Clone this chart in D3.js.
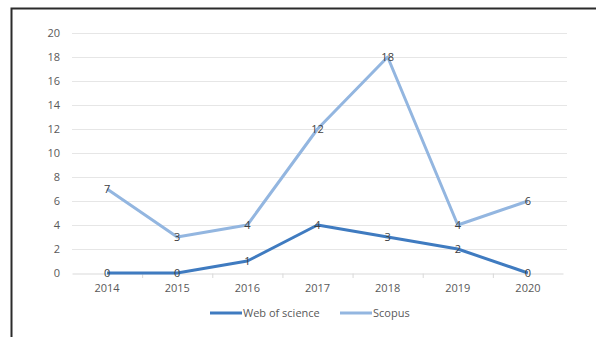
<!DOCTYPE html>
<html><head><meta charset="utf-8">
<script src="https://cdn.jsdelivr.net/npm/d3@7"></script>
<style>body{margin:0;background:#fff}svg{display:block}text{font-family:"Open Sans","Noto Sans",sans-serif}</style>
</head><body>
<script>
const years = ["2014","2015","2016","2017","2018","2019","2020"];
const webOfScience = [0,0,1,4,3,2,0];
const scopus = [7,3,4,12,18,4,6];
const yTicks = [0,2,4,6,8,10,12,14,16,18,20];
const seriesNames = ["Web of science","Scopus"];
const seriesColors = ["#3f7bc0","#93b6e0"];

const W=596,H=337;
const svg=d3.select("body").append("svg").attr("width",W).attr("height",H);
// frame
svg.append("path").attr("d",`M11.5,${H} V8.5 H${W}`).attr("fill","none").attr("stroke","#2b2b2b").attr("stroke-width",2);

const x=d3.scaleBand().domain(years).range([72,563]);
const y=d3.scaleLinear().domain([0,20]).range([273,33]);

// gridlines
svg.append("g").selectAll("line").data(yTicks.filter(d=>d>0)).join("line")
 .attr("x1",72).attr("x2",567).attr("y1",d=>y(d)+0.5).attr("y2",d=>y(d)+0.5)
 .attr("stroke","#e6e6e6").attr("stroke-width",1);
// y labels
svg.append("g").selectAll("text").data(yTicks).join("text")
 .attr("x",60).attr("y",d=>y(d)).attr("dy","0.35em").attr("text-anchor","end")
 .attr("font-size",11).attr("fill","#595959").text(d=>d);
// x axis
const xa=svg.append("g").attr("transform","translate(0,273.5)")
 .call(d3.axisBottom(x).tickSize(0).tickPadding(11));
xa.select(".domain").attr("stroke","#d9d9d9");
xa.selectAll("text").attr("font-size",11).attr("fill","#595959").attr("font-family","'Open Sans','Noto Sans',sans-serif");
// tick marks at band boundaries
svg.append("g").selectAll("line").data(years.slice(1)).join("line")
 .attr("x1",d=>x(d)+0.5).attr("x2",d=>x(d)+0.5).attr("y1",273.5).attr("y2",278)
 .attr("stroke","#d9d9d9");

const cx=d=>x(d)+x.bandwidth()/2;
const line=d3.line().x((d,i)=>cx(years[i])).y(d=>y(d));
const data=[webOfScience,scopus];
data.forEach((s,k)=>{
 svg.append("path").datum(s).attr("d",line).attr("fill","none")
  .attr("stroke",seriesColors[k]).attr("stroke-width",3).attr("stroke-linejoin","round");
});
data.forEach((s,k)=>{
 svg.append("g").selectAll("text").data(s).join("text")
  .attr("x",(d,i)=>cx(years[i])).attr("y",d=>y(d)).attr("dy","0.35em")
  .attr("text-anchor","middle").attr("font-size",11).attr("fill","#404040").text(d=>d);
});

// legend
const leg=[{x:210,name:seriesNames[0],c:seriesColors[0]},{x:340,name:seriesNames[1],c:seriesColors[1]}];
leg.forEach(l=>{
 svg.append("line").attr("x1",l.x).attr("x2",l.x+32).attr("y1",313).attr("y2",313).attr("stroke",l.c).attr("stroke-width",3);
 svg.append("text").attr("x",l.x+33).attr("y",313).attr("dy","0.35em").attr("font-size",11).attr("fill","#595959").text(l.name);
});
</script>
</body></html>
